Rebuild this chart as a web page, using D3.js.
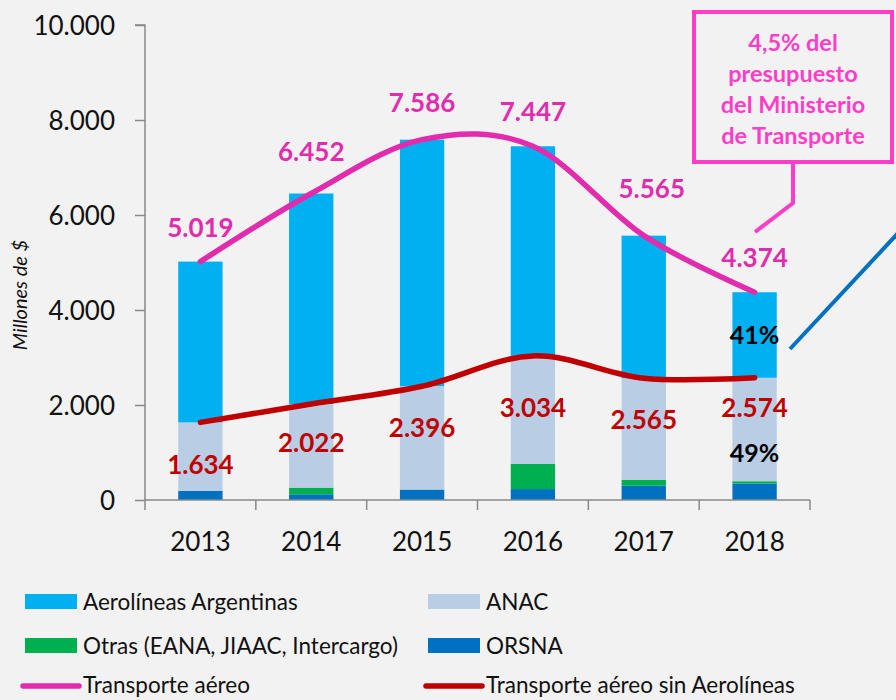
<!DOCTYPE html>
<html>
<head>
<meta charset="utf-8">
<script src="https://cdn.jsdelivr.net/npm/d3@7"></script>
<style>
  html, body { margin: 0; padding: 0; background: #F2F2F2; }
  svg { display: block; }
  text { font-family: Lato, "Open Sans", sans-serif; }
</style>
</head>
<body>
<svg id="chart" width="896" height="700"></svg>
<script>
// ---- data ----
const years = ["2013", "2014", "2015", "2016", "2017", "2018"];
const orsna = [190, 120, 220, 230, 300, 345];
const otras = [0, 140, 0, 530, 126, 50];
const anac = [1444, 1762, 2176, 2274, 2139, 2179];
const aerolineas = [3385, 4430, 5190, 4413, 3000, 1800];
const transporteAereo = [5019, 6452, 7586, 7447, 5565, 4374];
const sinAerolineas = [1634, 2022, 2396, 3034, 2565, 2574];
const yTicks = [0, 2000, 4000, 6000, 8000, 10000];
const seriesNames = ["ORSNA", "Otras (EANA, JIAAC, Intercargo)", "ANAC", "Aerolíneas Argentinas"];
const pctLabels2018 = ["41%", "49%"];
const annotationLines = ["4,5% del", "presupuesto", "del Ministerio", "de Transporte"];

// ---- styles ----
const colors = {
  "Aerolíneas Argentinas": "#00B0F0",
  "ANAC": "#B9CDE5",
  "Otras (EANA, JIAAC, Intercargo)": "#00B050",
  "ORSNA": "#0070C0"
};
const pink = "#E22BAD";
const red = "#C00000";
const axisColor = "#898989";

const svg = d3.select("#chart");

const x = d3.scaleBand().domain(years).range([145, 810]).paddingInner(0.6).paddingOuter(0.3);
const y = d3.scaleLinear().domain([0, 10000]).range([500, 25]);

const rows = years.map((yr, i) => ({
  year: yr,
  "ORSNA": orsna[i],
  "Otras (EANA, JIAAC, Intercargo)": otras[i],
  "ANAC": anac[i],
  "Aerolíneas Argentinas": aerolineas[i]
}));
const stack = d3.stack().keys(seriesNames)(rows);

// bars
svg.append("g").selectAll("g").data(stack).join("g")
  .attr("fill", d => colors[d.key])
  .selectAll("rect").data(d => d).join("rect")
  .attr("x", d => x(d.data.year))
  .attr("width", x.bandwidth())
  .attr("y", d => y(d[1]))
  .attr("height", d => y(d[0]) - y(d[1]));

// y axis
const yAxis = svg.append("g").attr("transform", "translate(145,0)")
  .call(d3.axisLeft(y).tickValues(yTicks).tickSize(10).tickPadding(20)
    .tickFormat(d => d3.format(",")(d).replace(/,/g, ".")));
yAxis.select(".domain").attr("stroke", axisColor).attr("stroke-width", 1.5)
  .attr("d", "M-10,25H0V510");
yAxis.selectAll(".tick line").attr("stroke", axisColor).attr("stroke-width", 1.5);
yAxis.selectAll(".tick text").attr("font-size", 26).attr("fill", "#111").attr("dy", "0.36em");

// x axis
const xAxisG = svg.append("g").attr("transform", "translate(0,500)");
const [x0r, x1r] = x.range();
xAxisG.append("line").attr("x1", x0r).attr("x2", x1r).attr("y1", 0).attr("y2", 0)
  .attr("stroke", axisColor).attr("stroke-width", 1.5);
const boundaries = d3.range(1, years.length + 1).map(i => x0r + i * (x1r - x0r) / years.length);
xAxisG.selectAll("line.tk").data(boundaries).join("line").attr("class", "tk")
  .attr("x1", d => d).attr("x2", d => d).attr("y1", 0).attr("y2", 10)
  .attr("stroke", axisColor).attr("stroke-width", 1.5);
xAxisG.selectAll("text").data(years).join("text")
  .attr("x", d => x(d) + x.bandwidth() / 2).attr("y", 51)
  .attr("text-anchor", "middle").attr("font-size", 26).attr("fill", "#111")
  .text(d => d);

// y title
svg.append("text").attr("transform", "translate(27,295) rotate(-90)")
  .attr("text-anchor", "middle").attr("font-size", 20).attr("font-style", "italic")
  .attr("fill", "#111").text("Millones de $");

// lines
const cx = (i) => x(years[i]) + x.bandwidth() / 2;
const line = d3.line().x((d, i) => cx(i)).y(d => y(d)).curve(d3.curveCardinal.tension(0));
svg.append("path").datum(sinAerolineas).attr("d", line)
  .attr("fill", "none").attr("stroke", red).attr("stroke-width", 5.5).attr("stroke-linecap", "round");
svg.append("path").datum(transporteAereo).attr("d", line)
  .attr("fill", "none").attr("stroke", pink).attr("stroke-width", 5.5).attr("stroke-linecap", "round");

// value labels
const fmt = v => d3.format(",")(v).replace(/,/g, ".");
const pinkDy = [-25, -33, -28, -25, -38, -25];
const pinkDx = [0, 0, 0, 0, 8, 0];
svg.append("g").selectAll("text").data(transporteAereo).join("text")
  .attr("x", (d, i) => cx(i) + pinkDx[i]).attr("y", (d, i) => y(d) + pinkDy[i])
  .attr("text-anchor", "middle").attr("font-size", 26).attr("font-weight", 700)
  .attr("fill", pink).text(fmt);
const redDy = [52, 48, 51, 61, 51, 39];
svg.append("g").selectAll("text").data(sinAerolineas).join("text")
  .attr("x", (d, i) => cx(i)).attr("y", (d, i) => y(d) + redDy[i])
  .attr("text-anchor", "middle").attr("font-size", 26).attr("font-weight", 700)
  .attr("fill", red).text(fmt);

// 2018 percent labels
const last = years.length - 1;
svg.append("text").attr("x", cx(last)).attr("y", y((sinAerolineas[last] + transporteAereo[last]) / 2) + 9)
  .attr("text-anchor", "middle").attr("font-size", 25).attr("font-weight", 700).attr("fill", "#000")
  .text(pctLabels2018[0]);
svg.append("text").attr("x", cx(last)).attr("y", y(1000) + 9)
  .attr("text-anchor", "middle").attr("font-size", 25).attr("font-weight", 700).attr("fill", "#000")
  .text(pctLabels2018[1]);

// annotation box
const ann = svg.append("g");
ann.append("rect").attr("x", 694).attr("y", 12).attr("width", 198).attr("height", 150)
  .attr("fill", "#F2F2F2").attr("stroke", "#FF3DC8").attr("stroke-width", 4);
ann.append("polyline").attr("points", "793,164 793,203 755,232")
  .attr("fill", "none").attr("stroke", "#FF3DC8").attr("stroke-width", 4);
ann.selectAll("text").data(annotationLines).join("text")
  .attr("x", 793).attr("y", (d, i) => 51 + i * 31)
  .attr("text-anchor", "middle").attr("font-size", 23.5).attr("font-weight", 700)
  .attr("fill", "#FF3DC8").text(d => d);

// blue pointer line
svg.append("line").attr("x1", 790).attr("y1", 349).attr("x2", 900).attr("y2", 231)
  .attr("stroke", "#0070C0").attr("stroke-width", 4);

// legend
const legendItems = [
  { name: "Aerolíneas Argentinas", type: "rect", color: colors["Aerolíneas Argentinas"] },
  { name: "ANAC", type: "rect", color: colors["ANAC"] },
  { name: "Otras (EANA, JIAAC, Intercargo)", type: "rect", color: colors["Otras (EANA, JIAAC, Intercargo)"] },
  { name: "ORSNA", type: "rect", color: colors["ORSNA"] },
  { name: "Transporte aéreo", type: "line", color: pink },
  { name: "Transporte aéreo sin Aerolíneas", type: "line", color: red }
];
const lg = svg.append("g");
legendItems.forEach((it, i) => {
  const col = i % 2, row = Math.floor(i / 2);
  const lx = col === 0 ? 25 : 428;
  const yc = 601 + row * 44;
  if (it.type === "rect") {
    lg.append("rect").attr("x", lx).attr("y", yc - 7).attr("width", 52).attr("height", 15).attr("fill", it.color);
    lg.append("text").attr("x", lx + 58).attr("y", yc + 9)
      .attr("font-size", 22.5).attr("fill", "#111").text(it.name);
  } else {
    lg.append("line").attr("x1", lx - 2).attr("x2", lx + 54).attr("y1", 686).attr("y2", 686)
      .attr("stroke", it.color).attr("stroke-width", 5.5).attr("stroke-linecap", "round");
    lg.append("text").attr("x", lx + 58).attr("y", 693)
      .attr("font-size", 22.5).attr("fill", "#111").text(it.name);
  }
});
</script>
</body>
</html>
